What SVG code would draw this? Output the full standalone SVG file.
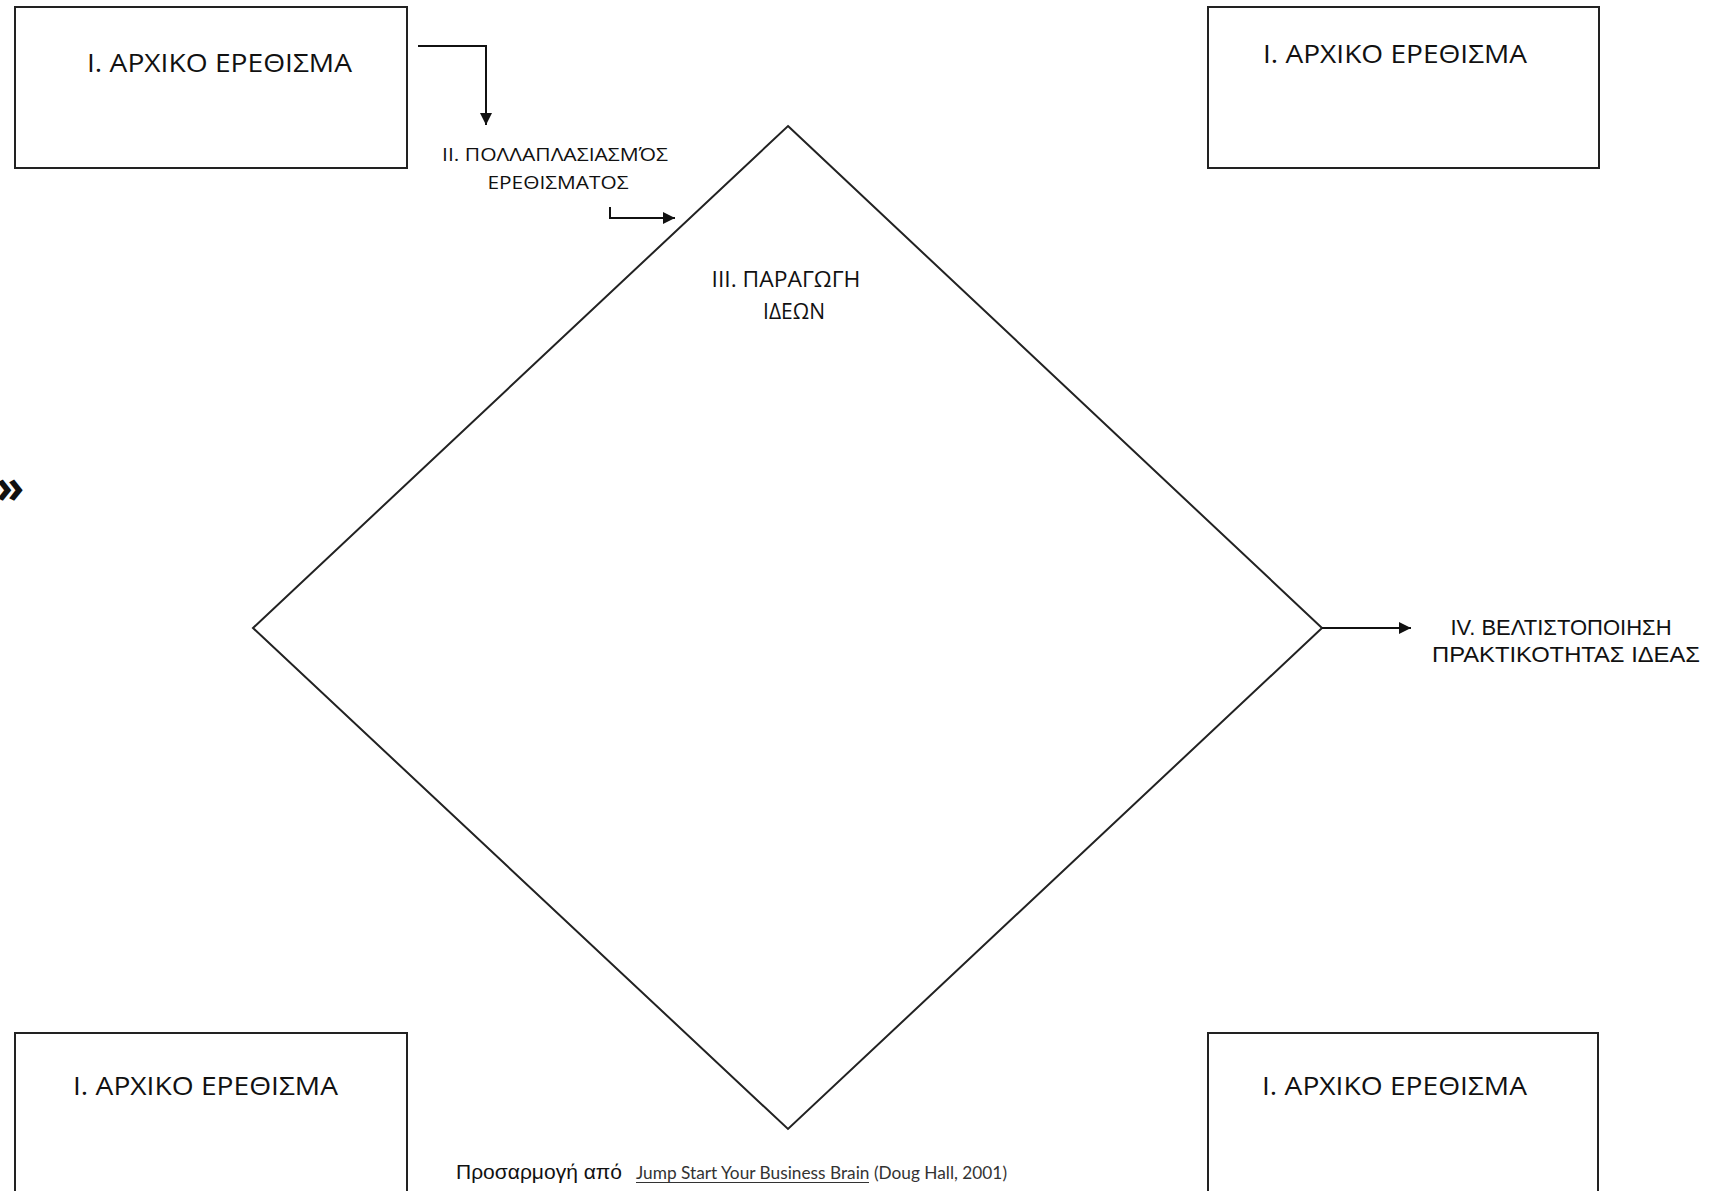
<svg xmlns="http://www.w3.org/2000/svg" width="1736" height="1191" viewBox="0 0 1736 1191">
<style>
.box{fill:#fff;stroke:#222;stroke-width:2}
.dia{fill:none;stroke:#222;stroke-width:2}
.con{fill:none;stroke:#111;stroke-width:2}
.t{font-family:"Open Sans","Noto Sans",sans-serif;fill:#111}
.a{font-family:"Liberation Sans",Arial,sans-serif;fill:#111}
.g{font-family:Lato,"Liberation Sans",sans-serif;fill:#333}
</style>
<defs>
<marker id="arr" markerWidth="12" markerHeight="12" refX="12" refY="6" orient="auto" markerUnits="userSpaceOnUse">
<path d="M0,0 L12,6 L0,12 Z" fill="#111"/>
</marker>
</defs>
<rect width="1736" height="1191" fill="#fff"/>
<g id="box-tl"><rect class="box" x="15" y="7" width="392" height="161"/><text class="t" x="87" y="72" font-size="25" textLength="265" lengthAdjust="spacingAndGlyphs">I. ΑΡΧΙΚΟ ΕΡΕΘΙΣΜΑ</text></g>
<g id="box-tr"><rect class="box" x="1208" y="7" width="391" height="161"/><text class="t" x="1263" y="63" font-size="25" textLength="264" lengthAdjust="spacingAndGlyphs">I. ΑΡΧΙΚΟ ΕΡΕΘΙΣΜΑ</text></g>
<g id="box-bl"><rect class="box" x="15" y="1033" width="392" height="170"/><text class="t" x="73" y="1095" font-size="25" textLength="265" lengthAdjust="spacingAndGlyphs">I. ΑΡΧΙΚΟ ΕΡΕΘΙΣΜΑ</text></g>
<g id="box-br"><rect class="box" x="1208" y="1033" width="390" height="170"/><text class="t" x="1262" y="1095" font-size="25" textLength="265" lengthAdjust="spacingAndGlyphs">I. ΑΡΧΙΚΟ ΕΡΕΘΙΣΜΑ</text></g>
<g id="diamond"><polygon class="dia" points="788,126 1322,628 788,1129 253,628"/>
<text class="t" font-size="21" text-anchor="middle"><tspan x="786" y="287" textLength="149" lengthAdjust="spacingAndGlyphs">III. ΠΑΡΑΓΩΓΗ</tspan><tspan x="794" y="319">ΙΔΕΩΝ</tspan></text></g>
<g id="label-ii"><text class="t" font-size="19" text-anchor="middle"><tspan x="555" y="161" textLength="226" lengthAdjust="spacingAndGlyphs">II. ΠΟΛΛΑΠΛΑΣΙΑΣΜΌΣ</tspan><tspan x="558" y="189" textLength="141" lengthAdjust="spacingAndGlyphs">ΕΡΕΘΙΣΜΑΤΟΣ</tspan></text></g>
<g id="label-iv"><text class="a" font-size="22" text-anchor="middle"><tspan x="1561" y="635">IV. ΒΕΛΤΙΣΤΟΠΟΙΗΣΗ</tspan><tspan x="1566" y="662" textLength="268" lengthAdjust="spacingAndGlyphs">ΠΡΑΚΤΙΚΟΤΗΤΑΣ ΙΔΕΑΣ</tspan></text></g>
<g id="connectors">
<path class="con" d="M418,46 H486 V125" marker-end="url(#arr)"/>
<path class="con" d="M610,207 V218 H675" marker-end="url(#arr)"/>
<path class="con" d="M1322,628 H1411" marker-end="url(#arr)"/>
</g>
<text class="t" x="-4" y="503" font-size="46" font-weight="bold">»</text>
<g id="footer">
<text class="a" x="456" y="1179" font-size="20" textLength="166" lengthAdjust="spacingAndGlyphs">Προσαρμογή από</text>
<text class="g" x="636" y="1179" font-size="16.5" textLength="371" lengthAdjust="spacingAndGlyphs">Jump Start Your Business Brain (Doug Hall, 2001)</text>
<line x1="636" y1="1182.5" x2="869" y2="1182.5" stroke="#333" stroke-width="1.2"/>
</g>
</svg>
